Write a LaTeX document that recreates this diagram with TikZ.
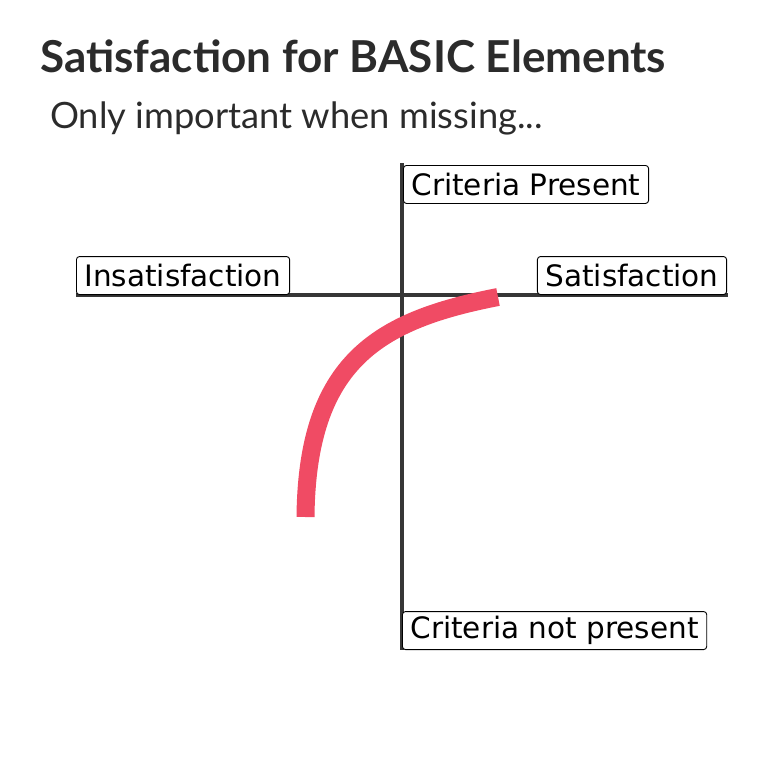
\documentclass[tikz,border=0pt]{standalone}
\usepackage{fontspec}
\setmainfont{Lato}
\newfontfamily\labelfont{DejaVu Sans}
\definecolor{axisgray}{HTML}{363636}
\definecolor{curvered}{HTML}{F04B64}
\definecolor{titlegray}{HTML}{2B2B2B}
\begin{document}
\begin{tikzpicture}[x=1pt,y=-1pt,
  lbl/.style={draw=black, line width=0.9pt, rounded corners=3pt, fill=white,
    font=\labelfont\fontsize{29.5}{32}\selectfont, inner xsep=8pt, inner ysep=0pt,
    minimum height=38pt, text=black},
  axisline/.style={draw=axisgray, line width=4pt},
  curveline/.style={draw=curvered, line width=18pt}]
\useasboundingbox (0,0) rectangle (768,768);
\node[anchor=base west, inner sep=0pt, text=titlegray, font=\fontsize{44}{50}\selectfont\bfseries] (title) at (40,73) {Satisfaction for BASIC Elements};
\node[anchor=base west, inner sep=0pt, text=titlegray, font=\fontsize{36.3}{42}\selectfont] (sub) at (50,128) {Only important when missing...};
\coordinate (left) at (76,295);
\coordinate (right) at (728,295);
\coordinate (top) at (402,163);
\coordinate (bottom) at (402,650);
\coordinate (cstart) at (305.5,517);
\coordinate (cend) at (498,297);
\draw[axisline] (left) -- (right);
\draw[axisline] (top) -- (bottom);
\draw[curveline] (cstart) .. controls (307,360) and (380,320) .. (cend);
\node[lbl, anchor=north west] (cp) at (403,165) {Criteria Present};
\node[lbl, anchor=south west] (ins) at (76,295) {Insatisfaction};
\node[lbl, anchor=south east] (sat) at (727,295) {Satisfaction};
\node[lbl, anchor=south west] (cnp) at (402,650) {Criteria not present};
\end{tikzpicture}
\end{document}
